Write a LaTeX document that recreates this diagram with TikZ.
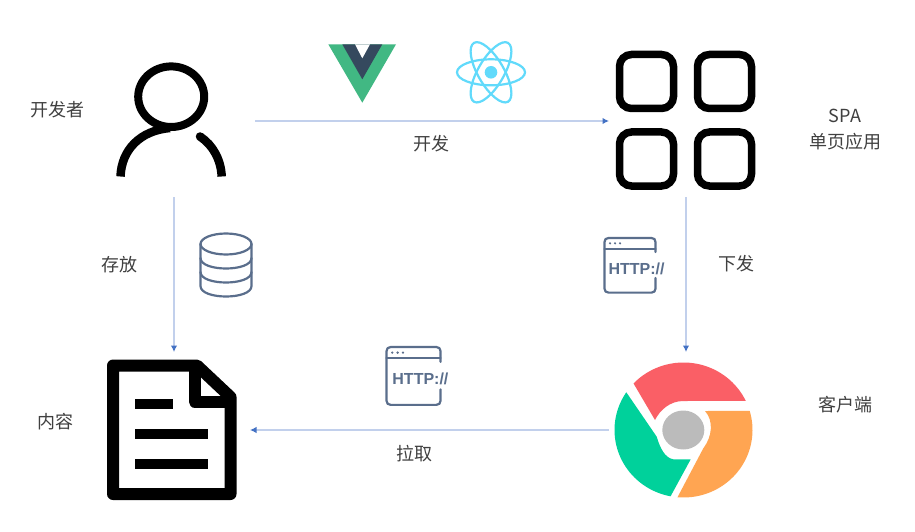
\documentclass[tikz,border=0pt]{standalone}
\usepackage{fontspec}
\setmainfont{Noto Sans CJK SC}
\newfontfamily\httpfont{Liberation Sans}
\usetikzlibrary{arrows.meta}
\definecolor{flowline}{HTML}{C2D0EC}
\definecolor{flowtip}{HTML}{4472C4}
\definecolor{iconslate}{HTML}{5A6E8C}
\definecolor{labelgrey}{HTML}{404040}
\definecolor{vuegreen}{HTML}{41B883}
\definecolor{vuedark}{HTML}{35495E}
\definecolor{reactblue}{HTML}{61DAFB}
\definecolor{cred}{HTML}{FA5F66}
\definecolor{corange}{HTML}{FFA552}
\definecolor{cgreen}{HTML}{00D19B}
\definecolor{cgrey}{HTML}{BBBBBB}
\tikzset{
  flow/.style={draw=flowline,line width=1.2pt,-{Latex[length=6.5pt,width=6.5pt,color=flowtip]}},
  hub/.style={inner sep=0pt,outer sep=0pt,minimum width=154pt,minimum height=153pt},
  lbl/.style={text=labelgrey,font=\fontsize{18}{26}\selectfont,align=center,inner sep=0pt},
  blackicon/.style={draw=black,line cap=round,line join=round},
  slate/.style={draw=iconslate,line width=2.2pt,line join=round,line cap=round},
  httpicon/.pic={
    \draw[slate] (51,14) -- (51,4) .. controls (51,1.5) and (49.5,0) .. (47,0) -- (4,0)
      .. controls (1.5,0) and (0,1.5) .. (0,4) -- (0,50.6) .. controls (0,53.1) and (1.5,54.6) .. (4,54.6)
      -- (47,54.6) .. controls (49.5,54.6) and (51,53.1) .. (51,50.6) -- (51,40);
    \draw[slate] (0,10.6) -- (51,10.6);
    \fill[iconslate] (5.5,5.3) circle (1.2pt) (10.5,5.3) circle (1.2pt) (15.5,5.3) circle (1.2pt);
    \node[inner sep=0pt,text=iconslate,font=\httpfont\bfseries\fontsize{16}{16}\selectfont] at (32,30.5) {HTTP://};
  }
}
\begin{document}
\begin{tikzpicture}[x=1pt,y=-1pt]
\useasboundingbox (0,0) rectangle (915,532);
\fill[white] (0,0) rectangle (915,532);

% invisible hubs that the connectors run between
\node[hub,minimum width=162pt,minimum height=152pt] (person) at (174,121) {};
\node[hub,minimum height=152pt] (apps) at (686,121) {};
\node[hub,minimum width=152pt,minimum height=156pt] (doc) at (174,430) {};
\node[hub,minimum height=156pt] (chrome) at (686,430) {};

% person
\draw[draw=black,line width=8pt] (171.2,96.7) ellipse [x radius=33pt,y radius=30.3pt];
\draw[draw=black,line width=8.5pt,line cap=butt] (120.5,176.5) .. controls (121.5,150) and (140,130.5) .. (170,128);
\draw[draw=black,line width=8.5pt,line cap=butt] (221.7,176.5) .. controls (221,160) and (213,145) .. (200,136.5);
\fill[black] (200,136.5) circle (4.25pt);

% apps grid
\foreach \gx/\gy in {619.5/54.5,697.5/54.5,619.5/132,697.5/132}
  \draw[draw=black,line width=7.5pt,rounded corners=12pt] (\gx,\gy) rectangle ++(54,54);

% vue
\fill[vuegreen] (328.3,44.3) -- (396,44.3) -- (362.3,102.7) -- cycle;
\fill[vuedark] (342.3,44.3) -- (382.3,44.3) -- (362.3,79.3) -- cycle;
\fill[white] (355,44.3) -- (370,44.3) -- (362.3,58.3) -- cycle;

% react
\foreach \ang in {0,60,120}
  \draw[reactblue,line width=2.2pt,rotate around={\ang:(491,72.3)}] (491,72.3) ellipse [x radius=34pt,y radius=13pt];
\fill[reactblue] (491,72.3) circle (6.3pt);

% database
\begin{scope}[slate]
\draw (226,244) ellipse [x radius=25.5pt,y radius=10.5pt];
\draw (200.5,244) -- (200.5,286) .. controls (200.5,300) and (251.5,300) .. (251.5,286) -- (251.5,244);
\draw (200.5,258) .. controls (200.5,272) and (251.5,272) .. (251.5,258);
\draw (200.5,272) .. controls (200.5,286) and (251.5,286) .. (251.5,272);
\end{scope}

% http icons
\pic at (604.5,238) {httpicon};
\pic[scale=1.06] at (386.5,347) {httpicon};

% document
\draw[blackicon,line width=12pt] (113,365.5) -- (197,365.5) -- (230.5,397) -- (230.5,494) -- (113,494) -- cycle;
\draw[blackicon,line width=12pt] (194.5,367) -- (194.5,401.5) -- (228,401.5);
\fill[black] (135,399.3) rectangle (173.3,409.3);
\fill[black] (135,429) rectangle (208.3,439);
\fill[black] (135,458.7) rectangle (208.3,468.7);

% chrome
\fill[cred] plot[domain=223.6:334.5,samples=40] ({683.5+69*cos(\x)},{430+67.5*sin(\x)})
  -- (683.3,401) .. controls (670,401) and (660,410) .. (655,420) -- cycle;
\fill[corange] (705,411) -- plot[domain=-16.4:95,samples=40] ({683.5+69*cos(\x)},{430+67.5*sin(\x)})
  -- (703.3,448.3) .. controls (712,437) and (714,421) .. (705,411) -- cycle;
\fill[cgreen] plot[domain=214:100.8,samples=40] ({683.5+69*cos(\x)},{430+67.5*sin(\x)})
  -- (690.7,459.3) -- (673.3,459.3) .. controls (665,458) and (660,448) .. (656.7,436.7) -- cycle;
\fill[cgrey] (683.3,430) ellipse [x radius=21pt,y radius=19.5pt];

% connectors
\draw[flow] (person.east) -- (apps.west);
\draw[flow] (person.south) -- (doc.north);
\draw[flow] (apps.south) -- (chrome.north);
\draw[flow] (chrome.west) -- (doc.east);

% labels
\node[lbl] (ldev) at (57,109.5) {开发者};
\node[lbl] (lbuild) at (431.5,144) {开发};
\node[lbl] (lspa) at (845,130) {SPA\\单页应用};
\node[lbl] (lstore) at (119,264.5) {存放};
\node[lbl] (lsend) at (736,263.5) {下发};
\node[lbl] (lcontent) at (55,421.5) {内容};
\node[lbl] (lpull) at (414,454) {拉取};
\node[lbl] (lclient) at (845,404.5) {客户端};
\end{tikzpicture}
\end{document}
